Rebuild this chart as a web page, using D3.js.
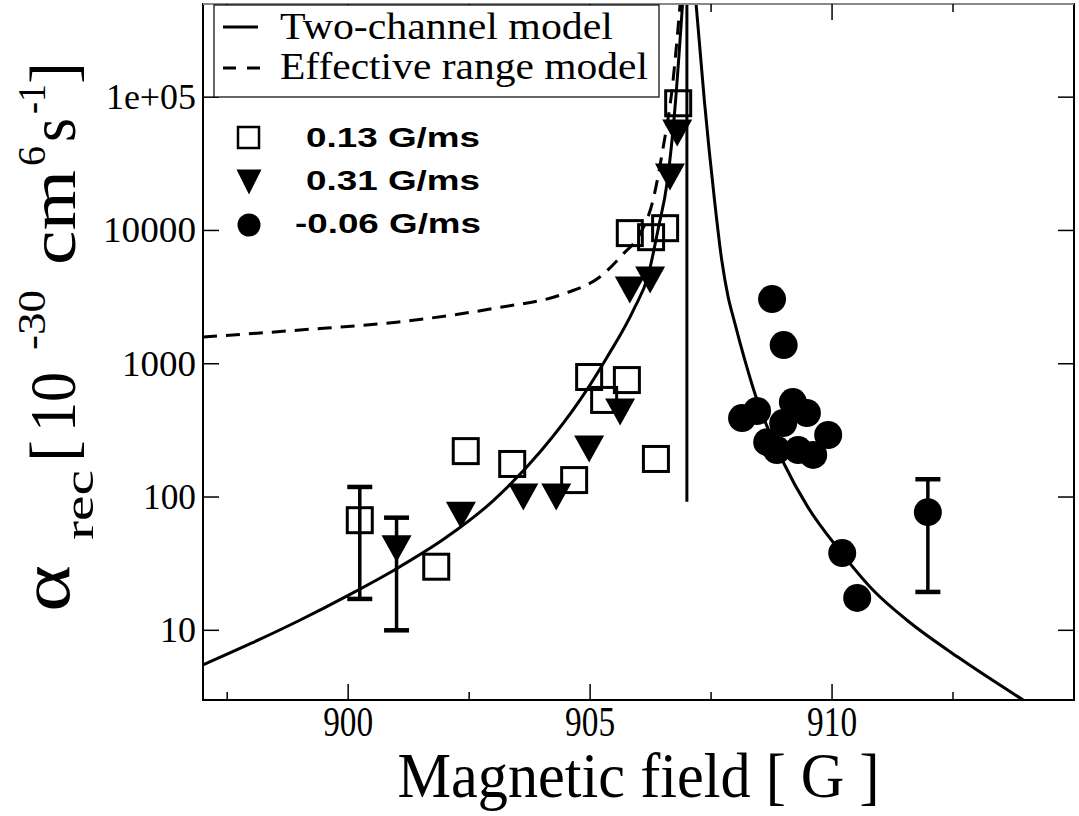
<!DOCTYPE html>
<html><head><meta charset="utf-8">
<script src="https://cdn.jsdelivr.net/npm/d3@7"></script>
<style>body{margin:0;background:#fff;} svg{display:block}</style>
</head><body>
<svg id="c" width="1079" height="816"></svg>
<script>
// ---------- data ----------
const sqField = [900.24, 901.82, 902.43, 903.39, 904.67, 904.98, 905.29, 905.76, 906.36, 905.82, 906.26, 906.55, 906.82];
const sqRate  = [67, 30, 221, 177, 134, 795, 535, 754, 193, 9550, 8900, 10400, 90000];
const triField = [901.0, 902.33, 903.62, 904.3, 904.98, 905.62, 905.82, 906.24, 906.65, 906.80];
const triRate  = [41, 73, 100, 100, 229, 434, 3570, 4250, 25200, 53800];
const circField = [908.14, 908.45, 908.76, 909.0, 909.19, 909.48, 908.99, 908.66, 908.86, 909.30, 909.61, 909.92, 910.21, 910.52, 911.98];
const circRate  = [391, 442, 3056, 1380, 516, 427, 359, 258, 225, 225, 207, 292, 38, 17.5, 77];
const errField = [900.24, 901.0, 911.98];
const errLow   = [17.2, 10, 19.4];
const errHigh  = [119, 70, 136];
const twoLeftField = [897.0, 898.0, 899.0, 900.0, 901.0, 902.0, 903.0, 904.0, 904.8, 905.35, 905.9, 906.2, 906.4, 906.6, 906.75, 906.91];
const twoLeftRate  = [5.5, 8.0, 11.9, 18.3, 29, 49, 94, 225, 540, 1120, 2550, 4600, 10000, 24000, 80000, 500000];
const twoRightField = [907.19, 907.36, 907.57, 907.72, 907.85, 907.97, 908.1, 908.45, 909.0, 909.5, 910.15, 910.85, 911.55, 912.6, 913.95];
const twoRightRate  = [500000, 95000, 17000, 6000, 3200, 2150, 1430, 534, 180, 84, 40, 20, 11.9, 6.3, 3.0];
const effField = [897.0, 899.0, 901.0, 903.0, 904.5, 905.2, 905.7, 906.0, 906.3, 906.5, 906.7, 906.86];
const effRate  = [1585, 1790, 2050, 2600, 3390, 4470, 6760, 9000, 16900, 40000, 120000, 500000];
const resField = [907.0, 907.0];
const resRate  = [92, 500000];
const xTicks = [900, 905, 910];
const xMinor = [897.5, 902.5, 907.5, 912.5];
const yTicks = [10, 100, 1000, 10000, 100000];
const yTickLabels = ["10", "100", "1000", "10000", "1e+05"];
const modelLabels = ["Two-channel model", "Effective range model"];
const seriesLabels = ["0.13 G/ms", "0.31 G/ms", "-0.06 G/ms"];
const xTitle = "Magnetic field [ G ]";
const yTitleParts = ["\u03B1", "rec", "[", "10", "-30", "cm", "6", "s", "-1", "]"];

// ---------- layout ----------
const L = 203, R = 1074, T = 4, B = 700;
const x = d3.scaleLinear().domain([897, 915]).range([L, R]);
const y = d3.scaleLog().domain([3, 500000]).range([B, T]);
const svg = d3.select("#c");
const serif = "'Liberation Serif','Times New Roman',serif";
const sans = "'Liberation Sans',Arial,sans-serif";

svg.append("defs").append("clipPath").attr("id","clip")
  .append("rect").attr("x",L).attr("y",T).attr("width",R-L).attr("height",B-T);

const plot = svg.append("g").attr("clip-path","url(#clip)");
const line = d3.line().x(d=>x(d[0])).y(d=>y(d[1])).curve(d3.curveMonotoneX);
const zip = (a,b)=>a.map((v,i)=>[v,b[i]]);

plot.append("path").datum(zip(twoLeftField,twoLeftRate)).attr("d",line)
  .attr("fill","none").attr("stroke","#000").attr("stroke-width",3);
plot.append("path").datum(zip(twoRightField,twoRightRate)).attr("d",line)
  .attr("fill","none").attr("stroke","#000").attr("stroke-width",3);
plot.append("path").datum(zip(effField,effRate)).attr("d",line)
  .attr("fill","none").attr("stroke","#000").attr("stroke-width",3).attr("stroke-dasharray","14,9");
plot.append("line").attr("x1",x(resField[0])).attr("x2",x(resField[1]))
  .attr("y1",y(resRate[0])).attr("y2",y(resRate[1])).attr("stroke","#000").attr("stroke-width",3);

// error bars
const eb = plot.append("g").attr("stroke","#000").attr("stroke-width",3.5);
errField.forEach((f,i)=>{
  eb.append("line").attr("x1",x(f)).attr("x2",x(f)).attr("y1",y(errLow[i])).attr("y2",y(errHigh[i]));
  [errLow[i],errHigh[i]].forEach(v=>eb.append("line").attr("x1",x(f)-12.5).attr("x2",x(f)+12.5).attr("y1",y(v)).attr("y2",y(v)).attr("stroke-width",4.5));
});

// markers
plot.append("g").selectAll("rect").data(zip(sqField,sqRate)).join("rect")
  .attr("x",d=>x(d[0])-12.5).attr("y",d=>y(d[1])-12.5).attr("width",25).attr("height",25)
  .attr("fill","none").attr("stroke","#000").attr("stroke-width",3);
const tri = (cx,cy,w,h)=>`M${cx-w/2},${cy-h/2}L${cx+w/2},${cy-h/2}L${cx},${cy+h/2}Z`;
plot.append("g").selectAll("path").data(zip(triField,triRate)).join("path")
  .attr("d",d=>tri(x(d[0]),y(d[1]),30,27)).attr("fill","#000");
plot.append("g").selectAll("circle").data(zip(circField,circRate)).join("circle")
  .attr("cx",d=>x(d[0])).attr("cy",d=>y(d[1])).attr("r",14).attr("fill","#000");

// frame and ticks
svg.append("rect").attr("x",L).attr("y",T).attr("width",R-L).attr("height",B-T)
  .attr("fill","none").attr("stroke","#000").attr("stroke-width",2);
svg.append("line").attr("x1",L).attr("x2",R).attr("y1",T).attr("y2",T).attr("stroke","#888").attr("stroke-width",2);
const tk = svg.append("g").attr("stroke","#000").attr("stroke-width",1.5);
xTicks.forEach(v=>{ tk.append("line").attr("x1",x(v)).attr("x2",x(v)).attr("y1",B).attr("y2",B-16);
  tk.append("line").attr("x1",x(v)).attr("x2",x(v)).attr("y1",T).attr("y2",T+16); });
xMinor.forEach(v=>{ tk.append("line").attr("x1",x(v)).attr("x2",x(v)).attr("y1",B).attr("y2",B-8);
  tk.append("line").attr("x1",x(v)).attr("x2",x(v)).attr("y1",T).attr("y2",T+8); });
yTicks.forEach(v=>{ tk.append("line").attr("x1",L).attr("x2",L+16).attr("y1",y(v)).attr("y2",y(v));
  tk.append("line").attr("x1",R).attr("x2",R-16).attr("y1",y(v)).attr("y2",y(v)); });

// tick labels
svg.append("g").selectAll("text").data(xTicks).join("text")
  .attr("x",d=>x(d)).attr("y",736).attr("text-anchor","middle")
  .attr("font-family",serif).attr("font-size",42)
  .attr("textLength",50).attr("lengthAdjust","spacingAndGlyphs").text(d=>d);
const yLabW = [36, 53, 74, 93, 90];
svg.append("g").selectAll("text").data(yTicks).join("text")
  .attr("x",(d,i)=>196-yLabW[i]).attr("y",d=>y(d)+12)
  .attr("font-family",serif).attr("font-size",35)
  .attr("textLength",(d,i)=>yLabW[i]).attr("lengthAdjust","spacingAndGlyphs")
  .text((d,i)=>yTickLabels[i]);

// axis titles
svg.append("text").attr("x",(L+R)/2).attr("y",797).attr("text-anchor","middle")
  .attr("font-family",serif).attr("font-size",64)
  .attr("textLength",482).attr("lengthAdjust","spacingAndGlyphs").text(xTitle);

// y title: pieces placed along the rotated baseline
const yt = svg.append("g").attr("transform","translate(75,612) rotate(-90)");
const u0 = [0, 72, 150, 180, 262, 347, 446, 470, 498, 528];
const u1 = [47, 142, 172, 240, 322, 442, 466, 494, 528, 550];
const fs = [70, 42, 66, 66, 40, 66, 40, 66, 40, 66];
const dv = [-6, 18, 0, 0, -30, 0, -30, 0, -30, 0];
yTitleParts.forEach((t,i)=>yt.append("text").attr("x",u0[i]).attr("y",dv[i])
  .attr("font-family",serif).attr("font-size",fs[i])
  .attr("textLength",u1[i]-u0[i]).attr("lengthAdjust","spacingAndGlyphs").text(t));

// legend
const lg = svg.append("g");
lg.append("rect").attr("x",214).attr("y",5).attr("width",445).attr("height",92)
  .attr("fill","#fff").attr("stroke","#000").attr("stroke-width",1.2);
lg.append("line").attr("x1",223).attr("x2",258).attr("y1",27).attr("y2",27).attr("stroke","#000").attr("stroke-width",3);
lg.append("line").attr("x1",223).attr("x2",260).attr("y1",68).attr("y2",68).attr("stroke","#000").attr("stroke-width",3).attr("stroke-dasharray","13,11");
lg.append("text").attr("x",280).attr("y",39).attr("font-family",serif).attr("font-size",38)
  .attr("textLength",333).attr("lengthAdjust","spacingAndGlyphs").text(modelLabels[0]);
lg.append("text").attr("x",280).attr("y",79).attr("font-family",serif).attr("font-size",38)
  .attr("textLength",368).attr("lengthAdjust","spacingAndGlyphs").text(modelLabels[1]);

lg.append("rect").attr("x",238).attr("y",127).attr("width",21).attr("height",21)
  .attr("fill","none").attr("stroke","#000").attr("stroke-width",2.5);
lg.append("path").attr("d",tri(249,182,25,25)).attr("fill","#000");
lg.append("circle").attr("cx",249).attr("cy",225).attr("r",11.5).attr("fill","#000");
const sx = [306, 306, 295], sy = [147, 190, 233], sw = [174, 174, 186];
seriesLabels.forEach((s,i)=>lg.append("text").attr("x",sx[i]).attr("y",sy[i])
  .attr("font-family",sans).attr("font-size",27).attr("font-weight","bold")
  .attr("textLength",sw[i]).attr("lengthAdjust","spacingAndGlyphs").text(s));
</script>
</body></html>
